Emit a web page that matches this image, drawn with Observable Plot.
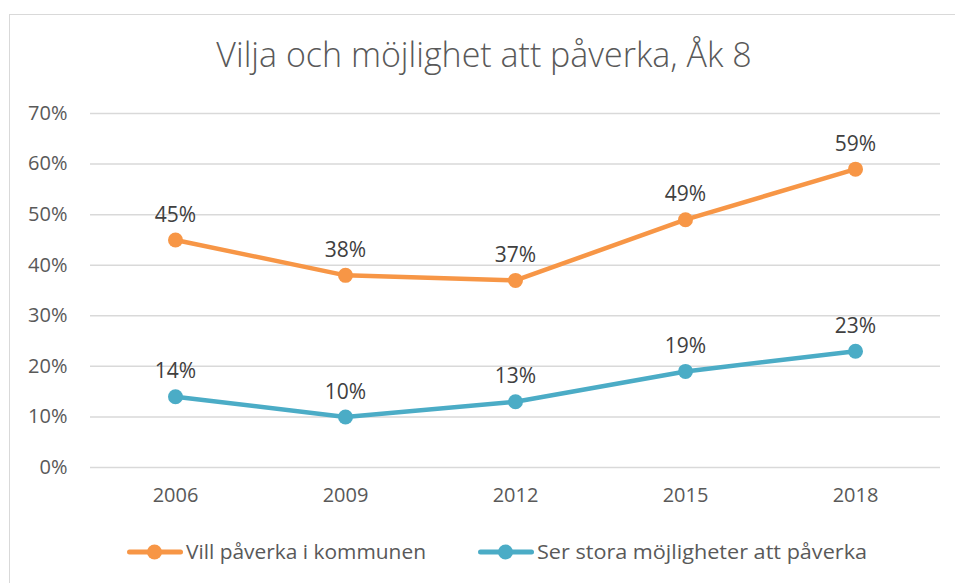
<!DOCTYPE html>
<html>
<head>
<meta charset="utf-8">
<script src="https://cdn.jsdelivr.net/npm/d3@7"></script>
<script src="https://cdn.jsdelivr.net/npm/@observablehq/plot@0.6"></script>
<style>
  html, body { margin: 0; padding: 0; background: #fff; }
  body { width: 955px; height: 583px; position: relative; overflow: hidden; font-family: "Open Sans", sans-serif; }
  #frame { position: absolute; left: 9px; top: 14px; width: 960px; height: 580px; border: 1.5px solid #d9d9d9; box-sizing: border-box; }
  #title { position: absolute; left: 0; top: 34px; width: 968px; text-align: center; font-size: 34px; font-weight: 300; color: #595959; line-height: 40px; }
  #chart { position: absolute; left: 0; top: 0; }
  #legend { position: absolute; top: 530px; left: 0; }
</style>
</head>
<body>
<div id="frame"></div>
<div id="title">Vilja och möjlighet att påverka, Åk 8</div>
<div id="chart"></div>
<svg id="legend" width="955" height="40"></svg>
<script>
const years = ["2006", "2009", "2012", "2015", "2018"];
const seriesNames = ["Vill påverka i kommunen", "Ser stora möjligheter att påverka"];
const villValues = [0.45, 0.38, 0.37, 0.49, 0.59];
const serValues = [0.14, 0.10, 0.13, 0.19, 0.23];
const colors = ["#F79646", "#4BACC6"];
const yTicks = [0, 0.1, 0.2, 0.3, 0.4, 0.5, 0.6, 0.7];

const data = [
  ...years.map((y, i) => ({year: y, value: villValues[i], series: seriesNames[0]})),
  ...years.map((y, i) => ({year: y, value: serValues[i], series: seriesNames[1]}))
];
const pct = d3.format(".0%");

const plot = Plot.plot({
  width: 955,
  height: 520,
  marginLeft: 90,
  marginRight: 15,
  marginTop: 113,
  marginBottom: 53,
  style: {fontFamily: "'Open Sans', sans-serif", fontSize: "20px", color: "#595959", background: "transparent"},
  x: {type: "point", domain: years, padding: 0.5, label: null},
  y: {domain: [0, 0.7], label: null},
  color: {domain: seriesNames, range: colors},
  marks: [
    Plot.ruleY(yTicks, {stroke: "#d9d9d9", strokeWidth: 1.5}),
    Plot.axisY({ticks: yTicks, tickFormat: pct, tickSize: 0, tickPadding: 23, label: null, fill: "#595959", fontSize: 20}),
    Plot.axisX({tickSize: 0, tickPadding: 20, label: null, fill: "#595959", fontSize: 20}),
    Plot.line(data, {x: "year", y: "value", z: "series", stroke: "series", strokeWidth: 4.5, strokeLinecap: "round", strokeLinejoin: "round"}),
    Plot.dot(data, {x: "year", y: "value", fill: "series", r: 7.5}),
    Plot.text(data, {x: "year", y: "value", text: d => pct(d.value), dy: -25, fill: "#404040", fontSize: 21})
  ]
});
document.getElementById("chart").appendChild(plot);

// legend: swatch (line + marker) followed by label
const legendLayout = [{x: 127, w: 240}, {x: 478, w: 330}];
const lg = d3.select("#legend");
seriesNames.forEach((name, i) => {
  const g = lg.append("g").attr("transform", `translate(${legendLayout[i].x},0)`);
  g.append("line").attr("x1", 2.5).attr("x2", 53.5).attr("y1", 22).attr("y2", 22)
    .attr("stroke", colors[i]).attr("stroke-width", 5).attr("stroke-linecap", "round");
  g.append("circle").attr("cx", 27.5).attr("cy", 22).attr("r", 7.5).attr("fill", colors[i]);
  g.append("text").attr("x", 59).attr("y", 28.5)
    .attr("font-family", "'Open Sans', sans-serif").attr("font-size", 19.5).attr("fill", "#595959")
    .attr("textLength", legendLayout[i].w).attr("lengthAdjust", "spacingAndGlyphs")
    .text(name);
});
</script>
</body>
</html>
